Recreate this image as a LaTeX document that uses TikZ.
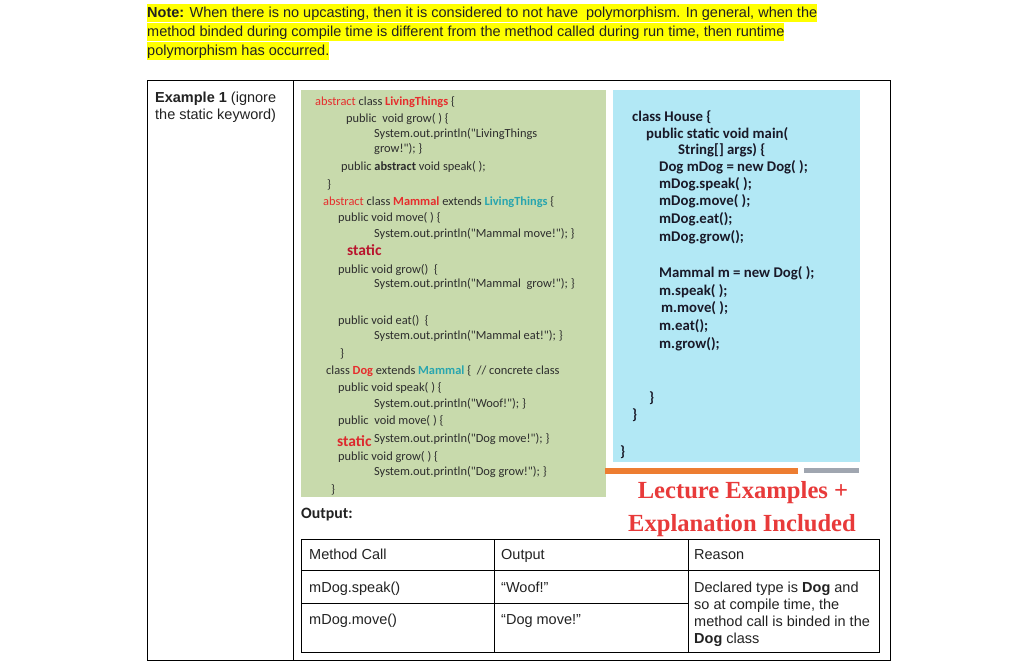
\documentclass[tikz,border=0pt]{standalone}
\usepackage{fontspec}
\setmainfont{Liberation Sans}
\newfontfamily\calfont{Carlito}
\newfontfamily\titlefont{Liberation Serif}
\definecolor{greenbg}{RGB}{200,218,172}
\definecolor{bluebg}{RGB}{178,232,245}
\definecolor{codegray}{RGB}{45,45,45}
\definecolor{kwred}{RGB}{230,45,45}
\definecolor{tealc}{RGB}{40,165,175}
\definecolor{maroonc}{RGB}{185,20,45}
\definecolor{orangebar}{RGB}{237,125,49}
\definecolor{graybar}{RGB}{160,166,176}
\definecolor{titlered}{RGB}{232,58,58}
\definecolor{navyc}{RGB}{25,25,40}
\definecolor{hlyellow}{RGB}{255,255,0}
\definecolor{txtc}{RGB}{34,34,34}
\begin{document}
\begin{tikzpicture}[x=1pt,y=-1pt,
  txt/.style={anchor=base west, inner sep=0pt, font=\fontsize{14.5}{16}\selectfont, text=txtc},
  hl/.style={txt, fill=hlyellow, text height=13.5pt, text depth=5pt},
  code/.style={anchor=base west, inner sep=0pt, font=\calfont\fontsize{12.4}{14}\selectfont, text=codegray},
  bcode/.style={anchor=base west, inner sep=0pt, font=\calfont\bfseries\fontsize{14.8}{16}\selectfont, text=navyc},
  stat/.style={anchor=base west, inner sep=0pt, font=\calfont\bfseries\fontsize{15.5}{18}\selectfont, text=maroonc},
  ttl/.style={anchor=base, inner sep=0pt, font=\titlefont\bfseries\fontsize{24.6}{28}\selectfont, text=titlered},
  rule/.style={draw=black, line width=0.9pt}]
\useasboundingbox[fill=white] (0,0) rectangle (1010,665);

% note
\node[hl] (n1) at (147,17) {\textbf{Note:} When there is no upcasting, then it is considered to not have\ \ polymorphism. In general, when the};
\node[hl] (n2) at (147,36) {method binded during compile time is different from the method called during run time, then runtime};
\node[hl] (n3) at (147,55) {polymorphism has occurred.};

% outer table
\draw[rule] (147,80) rectangle (890,660);
\draw[rule] (293,80) -- (293,660);
\node[txt] (e1) at (155,102) {\textbf{Example 1} (ignore};
\node[txt] (e2) at (155,119) {the static keyword)};

% green box
\fill[greenbg] (301,90) rectangle (606,497);
\node[code] (g1) at (315,105) {\textcolor{kwred}{abstract} class \textcolor{kwred}{\textbf{LivingThings}} \{};
\node[code] (g2) at (346,122) {public\ \ void grow( ) \{};
\node[code] (g3) at (374,137) {System.out.println("LivingThings};
\node[code] (g4) at (374,152) {grow!"); \}};
\node[code] (g5) at (341,170) {public \textbf{abstract} void speak( );};
\node[code] (g6) at (327,188) {\}};
\node[code] (g7) at (323,205) {\textcolor{kwred}{abstract} class \textcolor{kwred}{\textbf{Mammal}} extends \textcolor{tealc}{\textbf{LivingThings}} \{};
\node[code] (g8) at (338,221) {public void move( ) \{};
\node[code] (g9) at (374,237) {System.out.println("Mammal move!"); \}};
\node[stat] (g10) at (347,255) {static};
\node[code] (g11) at (338,273) {public void grow()\ \ \{};
\node[code] (g12) at (374,287) {System.out.println("Mammal\ \ grow!"); \}};
\node[code] (g13) at (338,324) {public void eat()\ \ \{};
\node[code] (g14) at (374,339) {System.out.println("Mammal eat!"); \}};
\node[code] (g15) at (340,357) {\}};
\node[code] (g16) at (326,374) {class \textcolor{kwred}{\textbf{Dog}} extends \textcolor{tealc}{\textbf{Mammal}} \{\ \ // concrete class};
\node[code] (g17) at (338,391) {public void speak( ) \{};
\node[code] (g18) at (374,407) {System.out.println("Woof!"); \}};
\node[code] (g19) at (338,424) {public\ \ void move( ) \{};
\node[stat, text=kwred!80!maroonc] (g20) at (337,446) {static};
\node[code] (g21) at (374,442) {System.out.println("Dog move!"); \}};
\node[code] (g22) at (338,460) {public void grow( ) \{};
\node[code] (g23) at (374,475) {System.out.println("Dog grow!"); \}};
\node[code] (g24) at (331,493) {\}};

% blue box
\fill[bluebg] (613,90) rectangle (860,462);
\node[bcode] (b1) at (632,121) {class House \{};
\node[bcode] (b2) at (646,138) {public static void main(};
\node[bcode] (b3) at (678,154) {String[] args) \{};
\node[bcode] (b4) at (659,171) {Dog mDog = new Dog( );};
\node[bcode] (b5) at (659,188) {mDog.speak( );};
\node[bcode] (b6) at (659,205) {mDog.move( );};
\node[bcode] (b7) at (659,223) {mDog.eat();};
\node[bcode] (b8) at (659,241) {mDog.grow();};
\node[bcode] (b9) at (659,277) {Mammal m = new Dog( );};
\node[bcode] (b10) at (659,295) {m.speak( );};
\node[bcode] (b11) at (661,312) {m.move( );};
\node[bcode] (b12) at (659,330) {m.eat();};
\node[bcode] (b13) at (659,348) {m.grow();};
\node[bcode] (b14) at (649,402) {\}};
\node[bcode] (b15) at (632,419) {\}};
\node[bcode] (b16) at (620,456) {\}};

% bars
\fill[orangebar] (605,468) rectangle (798,474);
\fill[graybar] (804,468) rectangle (859,473);

% title
\node[ttl] (t1) at (743,498) {Lecture Examples +};
\node[ttl] (t2) at (742,531) {Explanation Included};

% output label
\node[anchor=base west, inner sep=0pt, font=\calfont\bfseries\fontsize{15.8}{18}\selectfont, text=txtc] (out) at (301,518) {Output:};

% inner table
\draw[rule] (301,539) rectangle (879,652);
\draw[rule] (301,570) -- (879,570);
\draw[rule] (301,603) -- (688,603);
\draw[rule] (494,539) -- (494,652);
\draw[rule] (688,539) -- (688,652);
\node[txt] (h1) at (309,559) {Method Call};
\node[txt] (h2) at (501,559) {Output};
\node[txt] (h3) at (694,559) {Reason};
\node[txt] (r1) at (309,592) {mDog.speak()};
\node[txt] (r2) at (309,624) {mDog.move()};
\node[txt] (o1) at (501,592) {“Woof!”};
\node[txt] (o2) at (501,624) {“Dog move!”};
\node[txt] (s1) at (694,592) {Declared type is \textbf{Dog} and};
\node[txt] (s2) at (694,609) {so at compile time, the};
\node[txt] (s3) at (694,626) {method call is binded in the};
\node[txt] (s4) at (694,643) {\textbf{Dog} class};
\end{tikzpicture}
\end{document}
